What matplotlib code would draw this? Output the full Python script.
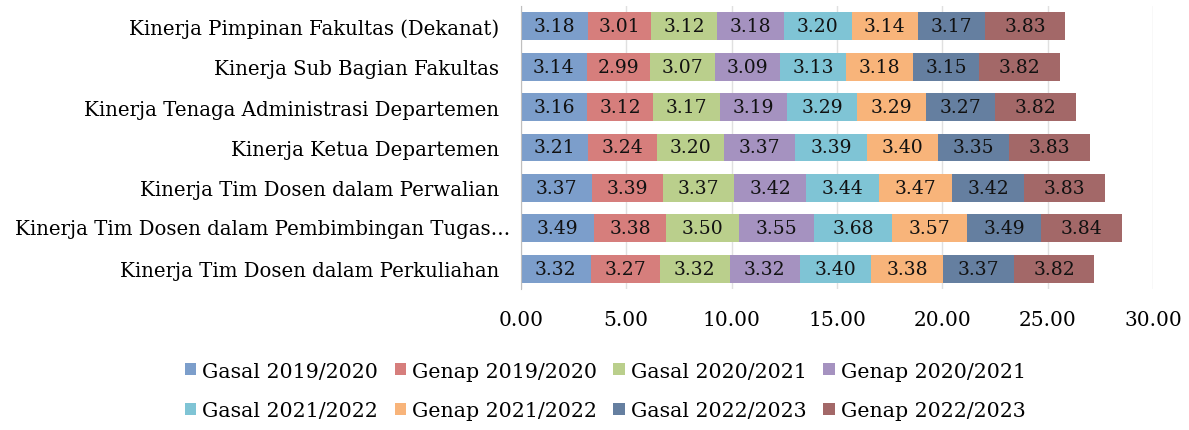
import numpy as np
import matplotlib
matplotlib.use("Agg")
import matplotlib.pyplot as plt

# categories listed bottom -> top (as Excel draws them)
categories = [
    "Kinerja Tim Dosen dalam Perkuliahan",
    "Kinerja Tim Dosen dalam Pembimbingan Tugas…",
    "Kinerja Tim Dosen dalam Perwalian",
    "Kinerja Ketua Departemen",
    "Kinerja Tenaga Administrasi Departemen",
    "Kinerja Sub Bagian Fakultas",
    "Kinerja Pimpinan Fakultas (Dekanat)",
]

series_names = [
    "Gasal 2019/2020", "Genap 2019/2020", "Gasal 2020/2021", "Genap 2020/2021",
    "Gasal 2021/2022", "Genap 2021/2022", "Gasal 2022/2023", "Genap 2022/2023",
]

gasal_1920 = [3.32, 3.49, 3.37, 3.21, 3.16, 3.14, 3.18]
genap_1920 = [3.27, 3.38, 3.39, 3.24, 3.12, 2.99, 3.01]
gasal_2021 = [3.32, 3.50, 3.37, 3.20, 3.17, 3.07, 3.12]
genap_2021 = [3.32, 3.55, 3.42, 3.37, 3.19, 3.09, 3.18]
gasal_2122 = [3.40, 3.68, 3.44, 3.39, 3.29, 3.13, 3.20]
genap_2122 = [3.38, 3.57, 3.47, 3.40, 3.29, 3.18, 3.14]
gasal_2223 = [3.37, 3.49, 3.42, 3.35, 3.27, 3.15, 3.17]
genap_2223 = [3.82, 3.84, 3.83, 3.83, 3.82, 3.82, 3.83]

all_series = [gasal_1920, genap_1920, gasal_2021, genap_2021,
              gasal_2122, genap_2122, gasal_2223, genap_2223]

colors = ["#7c9ecb", "#d67e7c", "#bacf8c", "#a592c0",
          "#7fc4d5", "#f8b47a", "#657fa0", "#a36868"]

plt.rcParams['font.family'] = ['DejaVu Serif']

fig = plt.figure(figsize=(11.89, 4.31), dpi=100)
ax = fig.add_axes([0.438, 0.327, 0.532, 0.657])

y = np.arange(len(categories))
left = np.zeros(len(categories))
handles = []
for name, vals, c in zip(series_names, all_series, colors):
    vals = np.array(vals)
    bars = ax.barh(y, vals, left=left, height=0.69, color=c, label=name)
    handles.append(bars)
    for b, v in zip(bars, vals):
        ax.text(b.get_x() + b.get_width() / 2, b.get_y() + b.get_height() / 2,
                f"{v:.2f}", ha="center", va="center", fontsize=13.5, color="#111111")
    left += vals

ax.set_xlim(0, 30)
ax.set_ylim(-0.5, 6.5)
ax.set_xticks(np.arange(0, 31, 5))
ax.set_xticklabels([f"{t:.2f}" for t in np.arange(0, 31, 5)], fontsize=14.5)
ax.set_yticks(y)
# the truncated label sits a bit further right in the original, draw it separately
ticklabels = [c if not c.endswith("…") else "" for c in categories]
ax.set_yticklabels(ticklabels, fontsize=14.2)
for i, c in enumerate(categories):
    if c.endswith("…"):
        ax.annotate(c, xy=(0, y[i]), xycoords=("axes fraction", "data"),
                    xytext=(-7.5, 0), textcoords="offset points",
                    ha="right", va="center", fontsize=14.2)
ax.tick_params(length=0, pad=15.5, axis="y")
ax.tick_params(length=0, pad=15, axis="x")
ax.grid(axis="x", color="#e0e0e0", linewidth=1)
ax.set_axisbelow(True)
for s in ["top", "right", "bottom"]:
    ax.spines[s].set_visible(False)
ax.spines["left"].set_color("#bfbfbf")

# legend filled row by row: reorder for matplotlib's column-wise fill
order = [0, 4, 1, 5, 2, 6, 3, 7]
fig.legend([handles[i] for i in order], [series_names[i] for i in order],
           loc="lower center", bbox_to_anchor=(0.509, -0.02), ncol=4, frameon=False,
           fontsize=14.8, handlelength=0.55, handleheight=0.55, handletextpad=0.3,
           columnspacing=0.8, labelspacing=1.0)

fig.savefig("out.png", dpi=100)
